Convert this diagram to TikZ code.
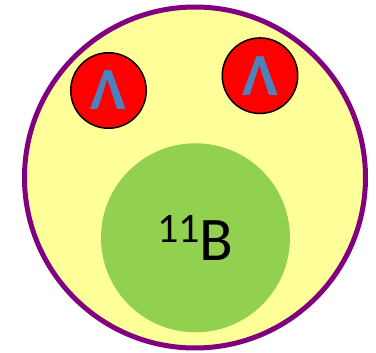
\documentclass[tikz,border=0pt]{standalone}
\usepackage{fontspec}
\setmainfont{Carlito}
\definecolor{hyperyellow}{HTML}{FFFF99}
\definecolor{hyperpurple}{HTML}{800080}
\definecolor{coregreen}{HTML}{92D050}
\definecolor{lambdablue}{HTML}{4F81BD}
\begin{document}
\begin{tikzpicture}[x=1pt, y=-1pt,
  nucleus/.style={circle, inner sep=0pt, fill=hyperyellow, draw=hyperpurple,
    line width=5pt, minimum size=341pt},
  core/.style={circle, inner sep=0pt, fill=coregreen, minimum size=189pt,
    font=\fontsize{62}{62}\selectfont},
  hyp/.style={circle, inner sep=0pt, fill=red, draw=black, line width=1.5pt,
    minimum size=75.5pt, text=lambdablue, font=\fontsize{60}{60}\selectfont\bfseries}]

  \useasboundingbox (0,0) rectangle (376,353);

  % hypernucleus
  \node[nucleus] (hn) at (195,177.5) {};

  % boron core
  \node[core] (b11) at (195.5,237.8)
    {\raisebox{18pt}{\fontsize{42}{42}\selectfont 11}B};

  % two lambdas
  \node[hyp] (lam1) at (108.5,90.5) {Λ};
  \node[hyp] (lam2) at (260,75.7) {Λ};

\end{tikzpicture}
\end{document}
